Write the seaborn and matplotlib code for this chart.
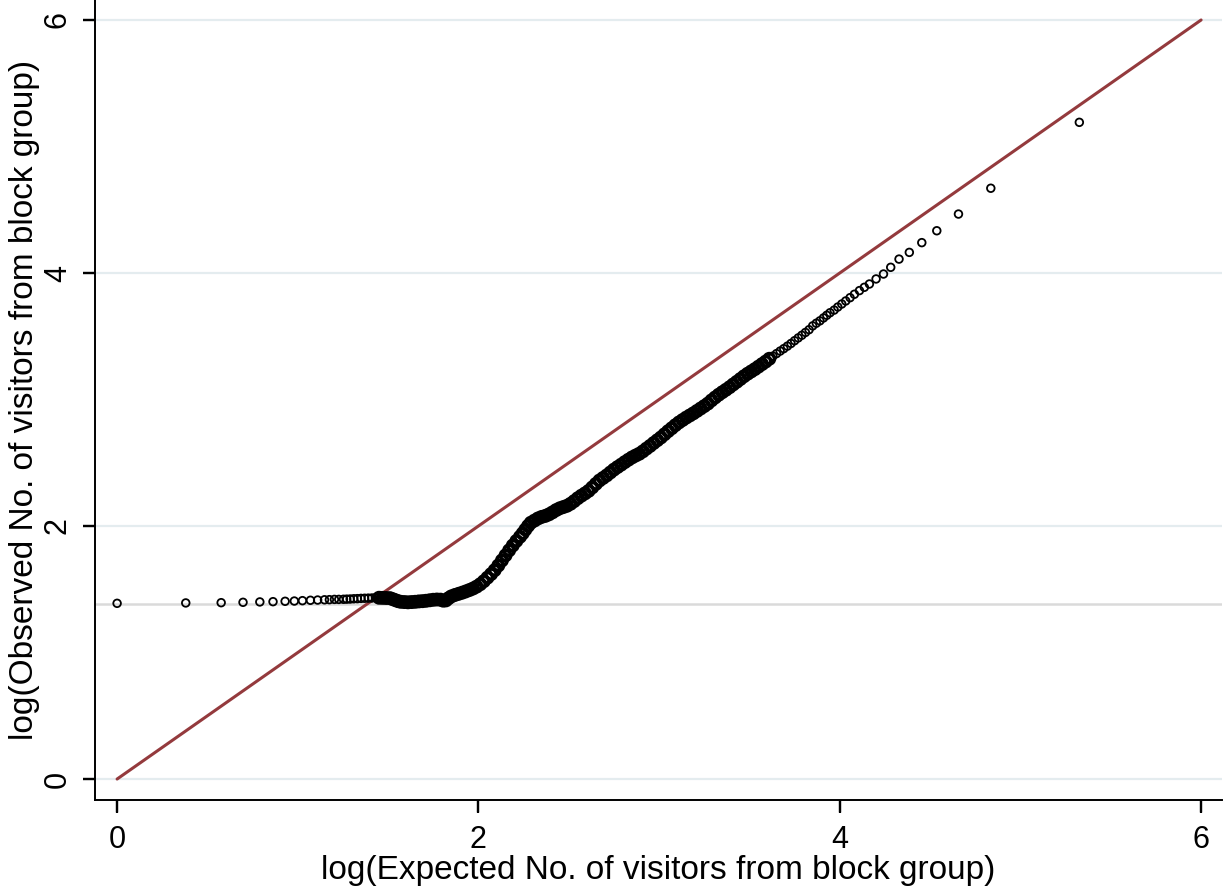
import pandas as pd
import matplotlib
matplotlib.use('Agg')
import matplotlib.pyplot as plt
import seaborn as sns

# lower tail: a few sparse points near the floor
low_expected = [0.0, 0.38, 0.576, 0.697, 0.79, 0.863, 0.93, 0.981, 1.026, 1.07,
                1.11, 1.148, 1.175, 1.203, 1.227, 1.253, 1.271]
low_observed = [1.389, 1.392, 1.394, 1.397, 1.400, 1.402, 1.405, 1.407, 1.410, 1.413,
                1.415, 1.417, 1.418, 1.420, 1.420, 1.421, 1.422]

# body: the dense band of points
mid_expected = [1.29, 1.31, 1.33, 1.35, 1.37, 1.39, 1.41, 1.43, 1.45, 1.47,
                1.49, 1.51, 1.525, 1.54, 1.555, 1.57, 1.59, 1.61, 1.63, 1.65,
                1.67, 1.69, 1.71, 1.73, 1.75, 1.77, 1.79, 1.805, 1.82, 1.835,
                1.85, 1.87, 1.89, 1.91, 1.93, 1.95, 1.97, 1.99, 2.01, 2.03,
                2.05, 2.07, 2.09, 2.11, 2.13, 2.15, 2.17, 2.19, 2.21, 2.23,
                2.245, 2.26, 2.275, 2.29, 2.31, 2.33, 2.35, 2.37, 2.39, 2.41,
                2.43, 2.45, 2.47, 2.49, 2.51, 2.53, 2.55, 2.57, 2.59, 2.61,
                2.63, 2.65, 2.67, 2.69, 2.71, 2.73, 2.75, 2.77, 2.79, 2.81,
                2.83, 2.85, 2.87, 2.89, 2.91, 2.93, 2.95, 2.97, 2.99, 3.01,
                3.03, 3.05, 3.07, 3.09, 3.11, 3.13, 3.15, 3.17, 3.19, 3.21,
                3.23, 3.25, 3.27, 3.29, 3.31, 3.33, 3.35, 3.37, 3.39, 3.41,
                3.43, 3.45, 3.47, 3.49, 3.51, 3.53, 3.55, 3.57, 3.59, 3.61,
                3.63, 3.65, 3.67, 3.69, 3.71, 3.73, 3.75, 3.77, 3.79, 3.81,
                3.83, 3.85, 3.87, 3.89]
mid_observed = [1.423, 1.425, 1.426, 1.428, 1.429, 1.430, 1.431, 1.433, 1.433, 1.432,
                1.431, 1.430, 1.422, 1.414, 1.406, 1.401, 1.399, 1.397, 1.399, 1.401,
                1.404, 1.406, 1.409, 1.413, 1.417, 1.419, 1.418, 1.410, 1.412, 1.430,
                1.444, 1.455, 1.464, 1.473, 1.483, 1.494, 1.506, 1.521, 1.540, 1.564,
                1.592, 1.620, 1.651, 1.688, 1.728, 1.768, 1.808, 1.846, 1.882, 1.915,
                1.942, 1.972, 2.001, 2.026, 2.043, 2.060, 2.072, 2.080, 2.092, 2.108,
                2.126, 2.140, 2.150, 2.160, 2.176, 2.197, 2.220, 2.240, 2.258, 2.278,
                2.305, 2.333, 2.360, 2.380, 2.400, 2.423, 2.446, 2.466, 2.485, 2.505,
                2.524, 2.542, 2.557, 2.571, 2.590, 2.612, 2.633, 2.656, 2.678, 2.700,
                2.725, 2.750, 2.773, 2.797, 2.819, 2.838, 2.857, 2.874, 2.891, 2.910,
                2.929, 2.948, 2.968, 2.993, 3.016, 3.038, 3.058, 3.077, 3.097, 3.119,
                3.140, 3.162, 3.184, 3.204, 3.222, 3.240, 3.260, 3.280, 3.300, 3.322,
                3.343, 3.363, 3.383, 3.402, 3.422, 3.443, 3.465, 3.487, 3.508, 3.530,
                3.552, 3.582, 3.603, 3.622]

# upper tail: sparse points
high_expected = [3.91, 3.928, 3.946, 3.969, 3.989, 4.011, 4.033, 4.057, 4.081, 4.109,
                 4.136, 4.164, 4.201, 4.242, 4.282, 4.328, 4.385, 4.454, 4.537, 4.657,
                 4.836, 5.326]
high_observed = [3.645, 3.666, 3.686, 3.707, 3.731, 3.755, 3.779, 3.805, 3.832, 3.861,
                 3.887, 3.913, 3.953, 3.992, 4.045, 4.110, 4.163, 4.240, 4.334, 4.466,
                 4.670, 5.191]

# 45 degree reference line and horizontal reference
ref_line = [0, 6]
floor_value = 1.386
tick_values = [0, 2, 4, 6]

df = pd.DataFrame({
    'expected': low_expected + mid_expected + high_expected,
    'observed': low_observed + mid_observed + high_observed,
})
# where the points pile up so much they read as a solid band
dense = (df['expected'] > 1.44) & (df['expected'] < 3.62)
ref_df = pd.DataFrame({'x': ref_line, 'y': ref_line})

sns.set_style('ticks')
plt.rcParams['font.family'] = ['Liberation Sans', 'DejaVu Sans']

fig, ax = plt.subplots(figsize=(12.25, 8.96), dpi=100)
fig.subplots_adjust(left=0.0776, right=0.9976, bottom=0.1071, top=1.0)

# grid lines like Stata's s2color scheme
for t in tick_values:
    ax.axhline(t, color='#e4ecef', lw=1.6, zorder=0)
ax.axhline(floor_value, color='#dadada', lw=1.8, zorder=0)

sns.lineplot(data=ref_df, x='x', y='y', color='#943a3d', lw=2.2, ax=ax, zorder=2)

sns.scatterplot(data=df[dense], x='expected', y='observed', marker='o', s=55,
                linewidth=2.6, ax=ax, zorder=3)
sns.scatterplot(data=df[~dense], x='expected', y='observed', marker='o', s=30,
                linewidth=1.3, ax=ax, zorder=3)
for pts in ax.collections[-2:]:
    pts.set_facecolor('none')
    pts.set_edgecolor('black')

ax.set_xlim(-0.122, 6.116)
ax.set_ylim(-0.166, 6.158)
ax.set_xticks(tick_values)
ax.set_yticks(tick_values)
ax.tick_params(axis='both', which='major', labelsize=22, length=9, width=1.6,
               direction='out', color='black', labelcolor='black')
ax.tick_params(axis='x', pad=9)
ax.tick_params(axis='y', pad=7)
for lab in ax.get_yticklabels():
    lab.set_rotation(90)
    lab.set_va('center')

# tick marks drawn explicitly outside the spines (they did not show up otherwise)
xtrans = ax.get_xaxis_transform()
ytrans = ax.get_yaxis_transform()
for t in tick_values:
    ax.plot([t, t], [0, -0.015], transform=xtrans, color='black', lw=1.6,
            clip_on=False, solid_capstyle='butt')
    ax.plot([0, -0.0107], [t, t], transform=ytrans, color='black', lw=1.6,
            clip_on=False, solid_capstyle='butt')

for side in ['top', 'right']:
    ax.spines[side].set_visible(False)
for side in ['left', 'bottom']:
    ax.spines[side].set_color('black')
    ax.spines[side].set_linewidth(1.4)

ax.set_xlabel('log(Expected No. of visitors from block group)', fontsize=24,
              labelpad=0, color='black')
ax.set_ylabel('log(Observed No. of visitors from block group)', fontsize=24,
              labelpad=2, color='black')

fig.savefig('out.png', dpi=100)
plt.close(fig)
